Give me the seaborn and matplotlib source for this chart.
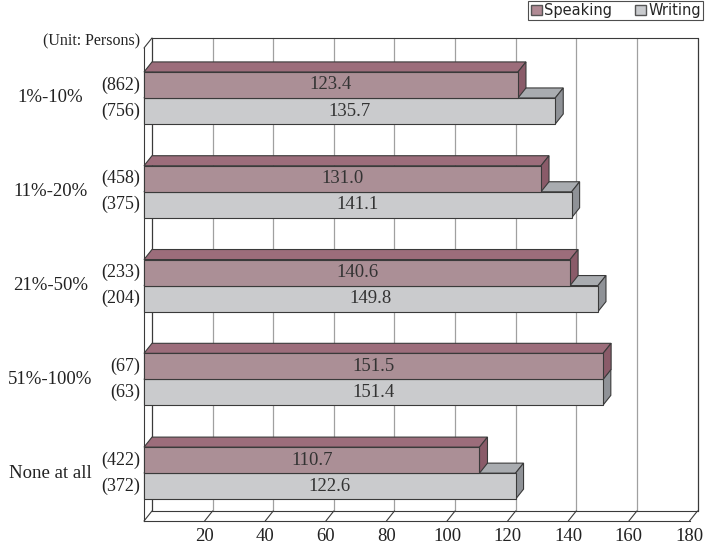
import matplotlib
matplotlib.use("Agg")
import matplotlib.pyplot as plt
import seaborn as sns
import pandas as pd
from matplotlib.patches import Polygon, Patch

categories = ["1%-10%", "11%-20%", "21%-50%", "51%-100%", "None at all"]
speaking = [123.4, 131.0, 140.6, 151.5, 110.7]
writing = [135.7, 141.1, 149.8, 151.4, 122.6]
speaking_n = ["(862)", "(458)", "(233)", "(67)", "(422)"]
writing_n = ["(756)", "(375)", "(204)", "(63)", "(372)"]
series = ["Speaking", "Writing"]
xticks = [20, 40, 60, 80, 100, 120, 140, 160, 180]

front = {"Speaking": "#b08a94", "Writing": "#c9cbce"}
top = {"Speaking": "#9c6d7b", "Writing": "#a9acb0"}
side = {"Speaking": "#8a5b69", "Writing": "#8f9297"}

df = pd.DataFrame({
    "Category": categories * 2,
    "Value": speaking + writing,
    "Type": ["Speaking"] * 5 + ["Writing"] * 5,
})

sns.set_theme(style="white")
plt.rcParams["font.family"] = ["Liberation Serif", "DejaVu Serif"]

fig = plt.figure(figsize=(7.06, 5.46), dpi=100)
ax = fig.add_axes([144 / 706, (546 - 521) / 546, 545.5 / 706, 473 / 546])

sns.barplot(data=df, x="Value", y="Category", hue="Type", hue_order=series,
            palette=front, orient="h", width=0.555, dodge=True,
            edgecolor="#3a3a3a", linewidth=0.8, legend=False, ax=ax)

ylo, yhi = 4.51, -0.533
ax.set_xlim(0, 180)
ax.set_ylim(ylo, yhi)
dx, dy = 2.64, 0.107
edge = "#3a3a3a"

# back wall & floor
for v in [0] + xticks:
    col = "#a0a0a0" if 0 < v < 180 else edge
    ax.plot([v + dx, v + dx], [yhi - dy, ylo - dy], color=col, lw=0.9,
            clip_on=False, zorder=1)
    ax.plot([v, v + dx], [ylo, ylo - dy], color=edge, lw=0.8, clip_on=False, zorder=1)
ax.plot([dx, 180 + dx], [yhi - dy, yhi - dy], color=edge, lw=0.8, clip_on=False, zorder=1)
ax.plot([dx, 180 + dx], [ylo - dy, ylo - dy], color=edge, lw=0.8, clip_on=False, zorder=1)
ax.plot([0, dx], [yhi, yhi - dy], color=edge, lw=0.8, clip_on=False, zorder=1)

# 3D faces
zbase = {"Speaking": 5, "Writing": 3}
for name, cont in zip(series, ax.containers):
    for p in cont.patches:
        x0, y0 = p.get_x(), p.get_y()
        w, h = p.get_width(), p.get_height()
        yt = min(y0, y0 + h)
        yb = max(y0, y0 + h)
        tp = Polygon([(x0, yt), (x0 + dx, yt - dy), (x0 + w + dx, yt - dy), (x0 + w, yt)],
                     closed=True, facecolor=top[name], edgecolor=edge, lw=0.8,
                     zorder=zbase[name], clip_on=False)
        sp = Polygon([(x0 + w, yt), (x0 + w + dx, yt - dy), (x0 + w + dx, yb - dy), (x0 + w, yb)],
                     closed=True, facecolor=side[name], edgecolor=edge, lw=0.8,
                     zorder=zbase[name], clip_on=False)
        ax.add_patch(tp)
        ax.add_patch(sp)
        p.set_zorder(zbase[name] + 1)
        p.set_clip_on(False)
        ax.text(x0 + w / 2, (yt + yb) / 2, f"{w:.1f}", ha="center", va="center",
                fontsize=13.5, color="#333333", zorder=8)

# labels
for i, cat in enumerate(categories):
    ax.annotate(cat, xy=(0, i), xycoords=("axes fraction", "data"),
                xytext=(-67.5, 0), textcoords="offset points",
                ha="center", va="center", fontsize=13.5, color="#222222")
    ax.annotate(speaking_n[i], xy=(0, i - 0.139), xycoords=("axes fraction", "data"),
                xytext=(-3, 0), textcoords="offset points",
                ha="right", va="center", fontsize=13, color="#222222")
    ax.annotate(writing_n[i], xy=(0, i + 0.139), xycoords=("axes fraction", "data"),
                xytext=(-3, 0), textcoords="offset points",
                ha="right", va="center", fontsize=13, color="#222222")

ax.annotate("(Unit: Persons)", xy=(0, 1), xycoords="axes fraction",
            xytext=(-3, 5), textcoords="offset points", ha="right", va="center",
            fontsize=11.5, color="#222222")

ax.set_xticks(xticks)
ax.set_xticklabels([str(t) for t in xticks], fontsize=13.5, color="#222222")
ax.set_yticks([])
ax.tick_params(axis="x", length=0, pad=5)
ax.set_xlabel("")
ax.set_ylabel("")
for s in ["top", "right"]:
    ax.spines[s].set_visible(False)
for s in ["bottom", "left"]:
    ax.spines[s].set_color(edge)
    ax.spines[s].set_linewidth(0.8)
    ax.spines[s].set_zorder(2)

handles = [Patch(facecolor=front[s], edgecolor="#555555", label=s) for s in series]
fig.legend(handles=handles, loc="upper right", bbox_to_anchor=(703 / 706, 1 - 1 / 546),
           ncol=2, frameon=True, fancybox=False, edgecolor="#222222",
           prop={"family": ["DejaVu Sans"], "size": 10.5},
           handlelength=0.75, handleheight=0.75, handletextpad=0.15,
           columnspacing=1.6, borderpad=0.15, borderaxespad=0)
fig.legends[0].get_frame().set_linewidth(0.8)

fig.savefig("out.png", dpi=100)
